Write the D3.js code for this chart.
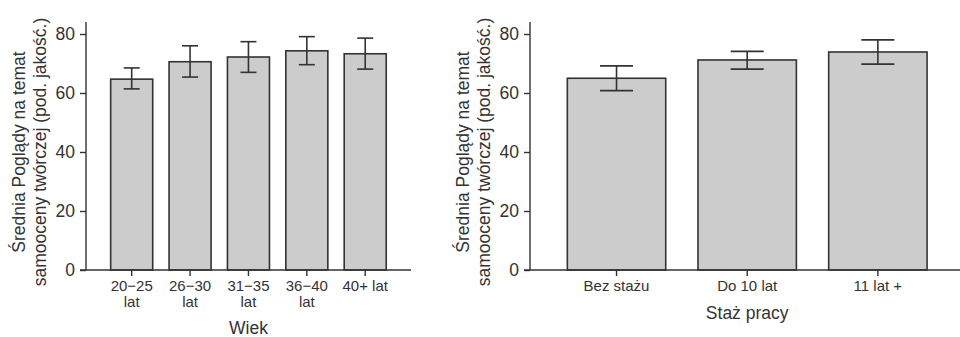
<!DOCTYPE html>
<html>
<head>
<meta charset="utf-8">
<script src="https://cdn.jsdelivr.net/npm/d3@7"></script>
<style>
  html, body { margin: 0; padding: 0; background: #fff; }
  svg text { font-family: "Liberation Sans", Arial, Helvetica, sans-serif; fill: #333; }
</style>
</head>
<body>
<svg id="chart" width="960" height="337"></svg>
<script>
// ---- data ----
const ageCategories = ["20−25\nlat", "26−30\nlat", "31−35\nlat", "36−40\nlat", "40+ lat"];
const ageMeans  = [64.7, 70.6, 72.2, 74.3, 73.3];
const ageLower  = [61.4, 65.4, 67.0, 69.6, 68.1];
const ageUpper  = [68.5, 76.0, 77.4, 79.1, 78.6];

const tenureCategories = ["Bez stażu", "Do 10 lat", "11 lat +"];
const tenureMeans = [65.0, 71.2, 73.9];
const tenureLower = [60.8, 68.1, 69.8];
const tenureUpper = [69.2, 74.1, 78.0];

const yTicks = [0, 20, 40, 60, 80];
const yTitleLines = ["Średnia Poglądy na temat", "samooceny twórczej (pod. jakość.)"];
const xTitleAge = "Wiek";
const xTitleTenure = "Staż pracy";

// ---- drawing ----
const svg = d3.select("#chart");
const ink = "#333";
const y = d3.scaleLinear().domain([0, 80]).range([270, 34]);

function panel(opts) {
  const g = svg.append("g");
  const x = d3.scaleBand().domain(opts.cats).range(opts.bandRange)
    .paddingInner(opts.pad).paddingOuter(opts.pad / 2);

  // bars
  g.selectAll("rect.bar").data(opts.cats).enter().append("rect")
    .attr("class", "bar")
    .attr("x", d => x(d))
    .attr("width", x.bandwidth())
    .attr("y", (d, i) => y(opts.means[i]))
    .attr("height", (d, i) => y(0) - y(opts.means[i]))
    .attr("fill", "#cccccc").attr("stroke", ink).attr("stroke-width", 1.6);

  // error bars
  const eb = g.selectAll("g.err").data(opts.cats).enter().append("g").attr("class", "err")
    .attr("transform", d => `translate(${x(d) + x.bandwidth() / 2},0)`);
  const hw = opts.cap / 2;
  eb.append("line").attr("x1", 0).attr("x2", 0)
    .attr("y1", (d, i) => y(opts.lower[i])).attr("y2", (d, i) => y(opts.upper[i]));
  eb.append("line").attr("x1", -hw).attr("x2", hw)
    .attr("y1", (d, i) => y(opts.lower[i])).attr("y2", (d, i) => y(opts.lower[i]));
  eb.append("line").attr("x1", -hw).attr("x2", hw)
    .attr("y1", (d, i) => y(opts.upper[i])).attr("y2", (d, i) => y(opts.upper[i]));
  eb.selectAll("line").attr("stroke", ink).attr("stroke-width", 1.6);

  // y axis
  const ya = g.append("g").attr("transform", `translate(${opts.axisX},0)`)
    .call(d3.axisLeft(y).tickValues(yTicks).tickSize(6).tickPadding(5));
  ya.select(".domain").remove();
  ya.selectAll(".tick line").attr("stroke", ink).attr("stroke-width", 1.4);
  ya.selectAll(".tick text").style("font-size", "17.5px").attr("fill", ink);
  g.append("line").attr("x1", opts.axisX).attr("x2", opts.axisX)
    .attr("y1", 22).attr("y2", y(0)).attr("stroke", ink).attr("stroke-width", 1.4);

  // x axis
  const xa = g.append("g").attr("transform", `translate(0,${y(0)})`)
    .call(d3.axisBottom(x).tickSize(6).tickPadding(4));
  xa.select(".domain").remove();
  xa.selectAll(".tick line").attr("stroke", ink).attr("stroke-width", 1.4);
  xa.selectAll(".tick text").text(null).style("font-size", "15px").attr("fill", ink)
    .each(function(d) {
      const lines = d.split("\n");
      const t = d3.select(this);
      lines.forEach((ln, k) => {
        t.append("tspan").attr("x", 0).attr("dy", k === 0 ? "0.71em" : "1.07em").text(ln);
      });
    });
  g.append("line").attr("x1", opts.axisX - 6).attr("x2", opts.axisEnd)
    .attr("y1", y(0)).attr("y2", y(0)).attr("stroke", ink).attr("stroke-width", 1.4);

  // titles
  const yt = g.append("text")
    .attr("transform", `translate(${opts.axisX - 67},${(y(0) + y(80)) / 2}) rotate(-90)`)
    .attr("text-anchor", "middle").style("font-size", "17.5px");
  yTitleLines.forEach((ln, k) => {
    yt.append("tspan").attr("x", 0).attr("dy", k === 0 ? "0.35em" : "1.22em").text(ln);
  });
  g.append("text").attr("x", (opts.bandRange[0] + opts.bandRange[1]) / 2 + opts.titleDx)
    .attr("y", opts.titleY).attr("text-anchor", "middle")
    .attr("dy", "0.35em").style("font-size", "17.5px").text(opts.xTitle);
}

panel({
  cats: ageCategories, means: ageMeans, lower: ageLower, upper: ageUpper,
  bandRange: [102.5, 394.4], pad: 0.28, cap: 16,
  axisX: 86, axisEnd: 411, xTitle: xTitleAge, titleY: 328, titleDx: 0
});
panel({
  cats: tenureCategories, means: tenureMeans, lower: tenureLower, upper: tenureUpper,
  bandRange: [551.2, 943.2], pad: 0.247, cap: 33,
  axisX: 530, axisEnd: 960, xTitle: xTitleTenure, titleY: 313, titleDx: 0
});
</script>
</body>
</html>
